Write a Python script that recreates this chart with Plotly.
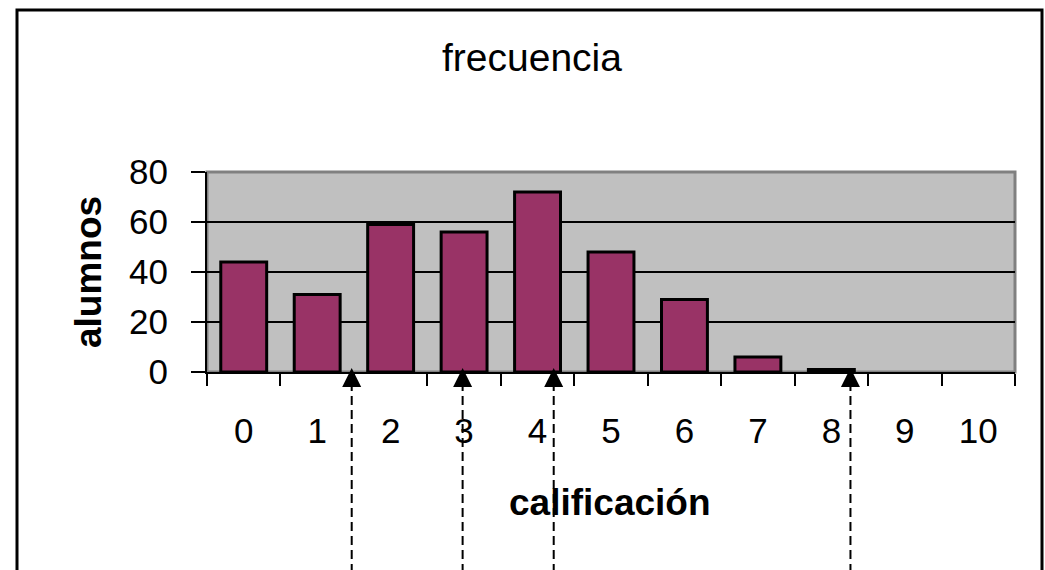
import plotly.graph_objects as go

# ---- data ----
categories = ["0", "1", "2", "3", "4", "5", "6", "7", "8", "9", "10"]
alumnos = [44, 31, 59, 56, 72, 48, 29, 6, 1, 0, 0]
arrow_positions = [1.47, 2.98, 4.22, 8.26]   # marked calificación values
y_ticks = [0, 20, 40, 60, 80]

FONT = "Arial, Liberation Sans, sans-serif"

# plot-area geometry in pixels (used to convert decorations to paper coords)
L, R, T, B = 207, 30, 172, 198
W, H = 1045, 570
PW, PH = W - L - R, H - T - B


def px(xp):
    return (xp - L) / PW


def py(yp):
    return (H - B - yp) / PH


fig = go.Figure()
fig.add_trace(go.Bar(
    x=categories, y=alumnos,
    marker=dict(color="#993366",
                line=dict(color="black", width=[3 if v > 0 else 0 for v in alumnos])),
    showlegend=False,
))

shapes = []
# plot-area border (grey, top/right)
shapes.append(dict(type="rect", xref="paper", yref="paper", x0=0, x1=1, y0=0, y1=1,
                   line=dict(color="#808080", width=3), layer="below"))
# outer chart border (left, top, right; no bottom)
shapes.append(dict(type="path", xref="paper", yref="paper",
                   path=f"M {px(17)} {py(600)} L {px(17)} {py(10)} L {px(1042)} {py(10)} L {px(1042)} {py(600)}",
                   line=dict(color="black", width=3)))

annotations = []
for a in arrow_positions:
    shapes.append(dict(type="line", xref="x", yref="paper", x0=a, x1=a,
                       y0=py(382), y1=py(600),
                       line=dict(color="black", width=2, dash="9px,5px")))
    annotations.append(dict(x=a, y=1.6, xref="x", yref="y", ax=0, ay=16,
                            showarrow=True, arrowhead=2, arrowsize=1.9,
                            arrowwidth=2, arrowcolor="black", text="", standoff=0))

annotations += [
    dict(text="frecuencia", xref="paper", yref="paper", x=px(532), y=py(58),
         xanchor="center", yanchor="middle",
         showarrow=False, font=dict(family=FONT, size=39, color="black")),
    dict(text="<b>calificación</b>", xref="paper", yref="paper", x=px(610), y=py(502),
         xanchor="center", yanchor="middle",
         showarrow=False, font=dict(family=FONT, size=37, color="black")),
    dict(text="<b>alumnos</b>", xref="paper", yref="paper", x=px(88), y=py(272),
         xanchor="center", yanchor="middle",
         textangle=-90, showarrow=False, font=dict(family=FONT, size=37, color="black")),
]

fig.update_layout(
    width=W, height=H,
    margin=dict(l=L, r=R, t=T, b=B, pad=0),
    paper_bgcolor="white",
    plot_bgcolor="#C0C0C0",
    bargap=0.375,
    shapes=shapes,
    annotations=annotations,
    font=dict(family=FONT, size=35, color="black"),
    xaxis=dict(
        type="category", range=[-0.5, 10.5],
        tickson="boundaries", ticks="outside", ticklen=12, tickwidth=2, tickcolor="black",
        showline=True, linecolor="black", linewidth=2,
        showgrid=False, zeroline=False,
        ticklabelstandoff=27,
        tickfont=dict(family=FONT, size=35, color="black"),
    ),
    yaxis=dict(
        range=[0, 80], tickvals=y_ticks,
        ticks="outside", ticklen=14, tickwidth=2, tickcolor="black",
        showline=True, linecolor="black", linewidth=2,
        showgrid=True, gridcolor="black", gridwidth=2,
        zeroline=False,
        ticklabelstandoff=16,
        tickfont=dict(family=FONT, size=35, color="black"),
    ),
)

fig.write_html("out.html")
